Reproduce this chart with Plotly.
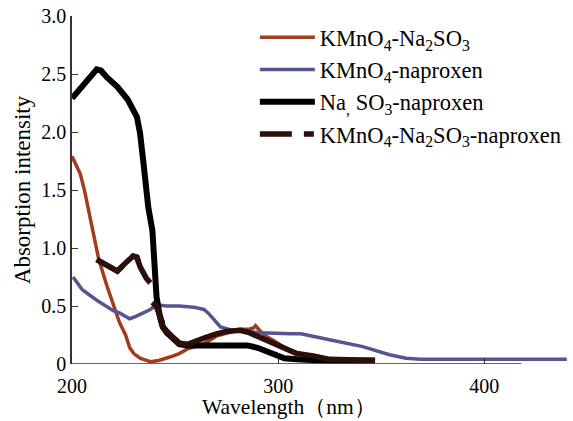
import plotly.graph_objects as go

# ---- data ----
red_x = [200, 204, 206, 208, 210, 213, 217, 221, 223, 226, 228, 230, 233, 238, 242, 247.5, 252, 256, 263.6, 270, 277, 281.5, 286, 288, 289, 290, 293, 298, 304, 310, 317, 325, 340]
red_y = [1.79, 1.64, 1.50, 1.33, 1.13, 0.90, 0.67, 0.47, 0.36, 0.25, 0.14, 0.09, 0.05, 0.02, 0.03, 0.06, 0.09, 0.13, 0.17, 0.24, 0.28, 0.30, 0.30, 0.31, 0.33, 0.31, 0.25, 0.20, 0.13, 0.09, 0.06, 0.04, 0.03]

blue_x = [200.5, 205, 212, 220, 223, 228, 231, 234.5, 238, 241, 246, 252, 259, 264, 266, 269, 272, 278, 291, 306, 311, 322, 332, 341, 354, 362, 369, 400, 440]
blue_y = [0.75, 0.64, 0.55, 0.46, 0.44, 0.39, 0.41, 0.44, 0.47, 0.51, 0.50, 0.50, 0.49, 0.47, 0.44, 0.38, 0.32, 0.29, 0.27, 0.26, 0.26, 0.22, 0.18, 0.15, 0.08, 0.05, 0.04, 0.04, 0.04]

black_x = [200, 205, 212, 214, 217, 222, 227, 231.5, 233, 234.5, 236, 237, 239, 240, 241, 242.7, 244, 246, 249, 252, 256, 262, 285, 290, 297.6, 303, 309, 320, 347]
black_y = [2.29, 2.40, 2.54, 2.53, 2.47, 2.39, 2.28, 2.13, 1.99, 1.76, 1.50, 1.35, 1.15, 0.84, 0.58, 0.40, 0.32, 0.27, 0.22, 0.17, 0.16, 0.16, 0.16, 0.14, 0.08, 0.05, 0.04, 0.03, 0.03]

brown_x = [212, 217, 222, 226.5, 229.6, 231.5, 233, 236, 238, None, 239, 241, 243.7, 244, 249, 252, 256, 260, 265, 270, 275, 281.5, 286, 291, 297, 303, 309, 317, 325, 347]
brown_y = [0.90, 0.85, 0.80, 0.88, 0.93, 0.92, 0.84, 0.74, 0.70, None, 0.53, 0.50, 0.36, 0.32, 0.23, 0.18, 0.17, 0.20, 0.23, 0.26, 0.28, 0.29, 0.27, 0.23, 0.18, 0.13, 0.09, 0.07, 0.04, 0.03]

names = [
    "KMnO<sub>4</sub>-Na<sub>2</sub>SO<sub>3</sub>",
    "KMnO<sub>4</sub>-naproxen",
    "Na<sub>,</sub> SO<sub>3</sub>-naproxen",
    "KMnO<sub>4</sub>-Na<sub>2</sub>SO<sub>3</sub>-naproxen",
]

y_ticks = [0, 0.5, 1.0, 1.5, 2.0, 2.5, 3.0]
y_ticktext = ["0", "0.5", "1.0", "1.5", "2.0", "2.5", "3.0"]
x_ticks = [200, 300, 400]

FONT = "Liberation Serif"

fig = go.Figure()
fig.add_trace(go.Scatter(x=red_x, y=red_y, mode="lines", name=names[0],
                         line=dict(color="#a13d1f", width=3.5)))
fig.add_trace(go.Scatter(x=blue_x, y=blue_y, mode="lines", name=names[1],
                         line=dict(color="#55558f", width=3.5)))
fig.add_trace(go.Scatter(x=black_x, y=black_y, mode="lines", name=names[2],
                         line=dict(color="#000000", width=6)))
fig.add_trace(go.Scatter(x=brown_x, y=brown_y, mode="lines", name=names[3],
                         showlegend=False,
                         line=dict(color="#2b0f0a", width=5.5)))
fig.add_trace(go.Scatter(x=brown_x, y=brown_y, mode="lines", name=names[3],
                         line=dict(color="#2b0f0a", width=5.5, dash="32px,12px,10px,400px")))

fig.add_shape(type="line", xref="x", yref="y", x0=200, x1=418, y0=0, y1=0,
              line=dict(color="#333333", width=1.5))

fig.update_layout(
    width=573, height=421,
    margin=dict(l=72, r=0, t=16, b=57),
    paper_bgcolor="white", plot_bgcolor="white",
    font=dict(family=FONT, color="black", size=20),
    showlegend=True,
    legend=dict(x=0.365, y=1.0, xanchor="left", yanchor="top",
                bgcolor="rgba(0,0,0,0)", font=dict(size=22.5, family=FONT),
                itemwidth=55, tracegroupgap=0),
    xaxis=dict(range=[200, 443], tickvals=x_ticks, ticks="inside", ticklen=6,
               tickcolor="#333333", showline=False, showgrid=False, zeroline=False,
               ticklabelstandoff=8,
               tickfont=dict(size=20, family=FONT)),
    yaxis=dict(range=[0, 3.0], tickvals=y_ticks, ticktext=y_ticktext,
               ticks="inside", ticklen=6, tickcolor="#333333",
               showline=True, linecolor="#333333", linewidth=1.5,
               showgrid=False, zeroline=False,
               tickfont=dict(size=20, family=FONT),
               title=dict(text="Absorption intensity", font=dict(size=23, family=FONT), standoff=4)),
    annotations=[dict(text="Wavelength（nm）", x=0.433, y=-0.124, xref="paper", yref="paper",
                      xanchor="center", yanchor="middle", showarrow=False,
                      font=dict(size=21.5, family=FONT))],
)

fig.write_html("out.html")
